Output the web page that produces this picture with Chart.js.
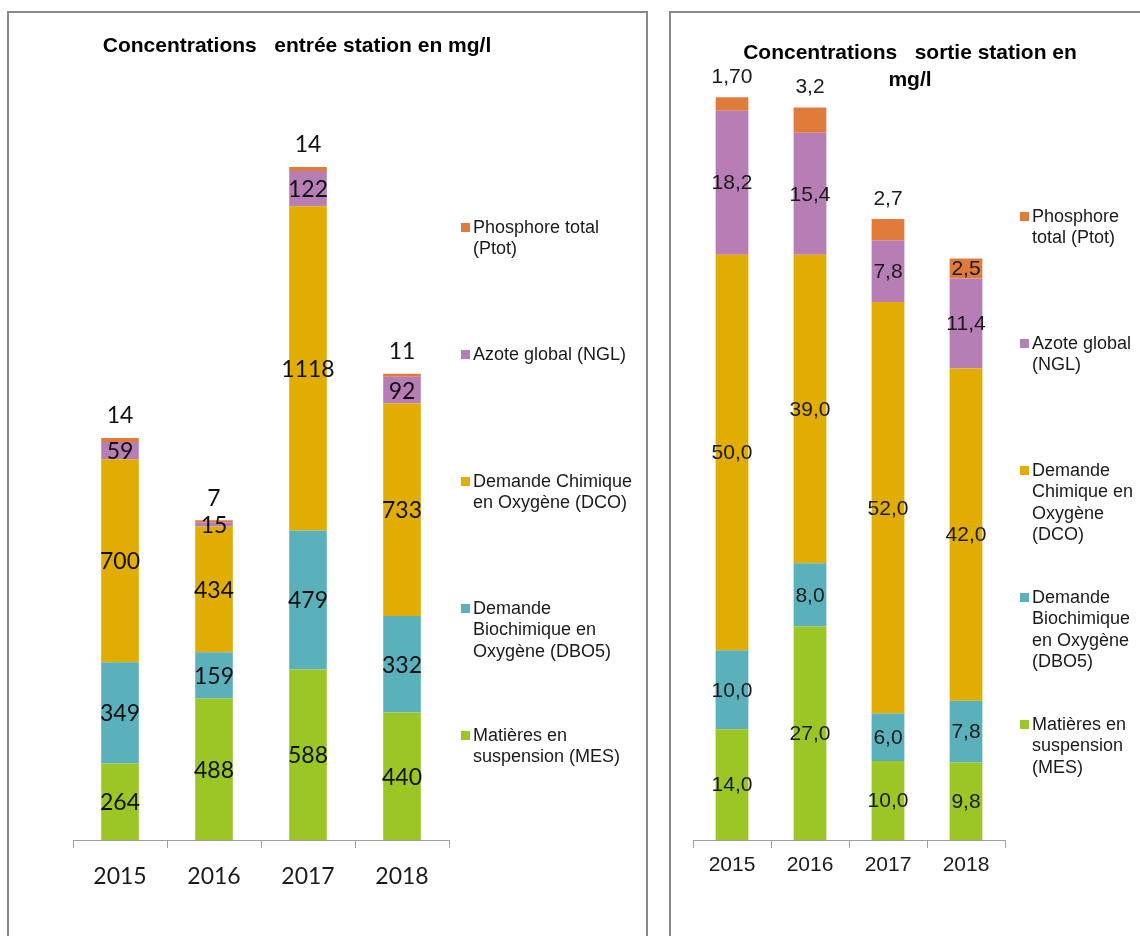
<!DOCTYPE html>
<html lang="fr">
<head>
<meta charset="utf-8">
<title>Concentrations entrée / sortie station</title>
<script src="https://cdn.jsdelivr.net/npm/chart.js@4.4.0/dist/chart.umd.min.js"></script>
<style>
  html, body { margin: 0; padding: 0; background: #fff; }
  body { width: 1140px; height: 936px; position: relative; overflow: hidden; }
  .panel { position: absolute; border: 2px solid #888; box-sizing: border-box; }
  #panelIn { left: 7px; top: 11px; width: 641px; height: 1000px; }
  #panelOut { left: 669px; top: 11px; width: 600px; height: 1000px; }
  canvas { position: absolute; top: 0; }
  #chartIn { left: 0; }
  #chartOut { left: 660px; }
</style>
</head>
<body>
<div class="panel" id="panelIn"></div>
<div class="panel" id="panelOut"></div>
<canvas id="chartIn" width="660" height="936"></canvas>
<canvas id="chartOut" width="480" height="936"></canvas>
<script>
const years = ['2015', '2016', '2017', '2018'];

// entrée station, mg/l
const mesIn  = [264, 488, 588, 440];
const dbo5In = [349, 159, 479, 332];
const dcoIn  = [700, 434, 1118, 733];
const nglIn  = [59, 15, 122, 92];
const ptotIn = [14, 7, 14, 11];

// sortie station, mg/l
const mesOut  = [14.0, 27.0, 10.0, 9.8];
const dbo5Out = [10.0, 8.0, 6.0, 7.8];
const dcoOut  = [50.0, 39.0, 52.0, 42.0];
const nglOut  = [18.2, 15.4, 7.8, 11.4];
const ptotOut = [1.70, 3.2, 2.7, 2.5];
const ptotOutDecimals = [2, 1, 1, 1];

const seriesNames = [
  'Matières en suspension (MES)',
  'Demande Biochimique en Oxygène (DBO5)',
  'Demande Chimique en Oxygène (DCO)',
  'Azote global (NGL)',
  'Phosphore total (Ptot)'
];
const seriesColors = ['#9BC625', '#5AB0BB', '#E1AD01', '#B77DB5', '#E07B3C'];

const ARIAL = '"Liberation Sans", Arial, sans-serif';

function wrapWords(ctx, text, maxWidth) {
  const words = text.split(' ');
  const lines = [];
  let cur = '';
  words.forEach(w => {
    const test = cur ? cur + ' ' + w : w;
    if (cur && ctx.measureText(test).width > maxWidth) {
      lines.push(cur);
      cur = w;
    } else {
      cur = test;
    }
  });
  if (cur) lines.push(cur);
  return lines;
}

// titles, legend and segment values, drawn after the bars
const decorPlugin = {
  id: 'decor',
  afterDraw(chart, args, o) {
    const ctx = chart.ctx;
    ctx.save();
    ctx.textAlign = 'center';
    ctx.textBaseline = 'middle';

    // title
    ctx.fillStyle = '#000';
    ctx.font = 'bold 21px ' + ARIAL;
    o.title.forEach((line, i) => ctx.fillText(line, o.titleX, o.titleY + i * 27));

    // values inside the segments, top segment above the bar
    ctx.font = o.labelFont;
    ctx.fillStyle = o.labelColor;
    const n = chart.data.datasets.length;
    chart.data.datasets.forEach((ds, di) => {
      const meta = chart.getDatasetMeta(di);
      meta.data.forEach((bar, i) => {
        const txt = o.format(ds.data[i], di, i);
        let y = (bar.y + bar.base) / 2;
        if (di === n - 1 && !(o.topInside && o.topInside[i])) y = bar.y - o.topOffset;
        ctx.fillText(txt, bar.x, y + 1);
      });
    });

    // legend, top series first
    ctx.textAlign = 'left';
    ctx.font = '18px ' + ARIAL;
    for (let k = 0; k < n; k++) {
      const ds = chart.data.datasets[n - 1 - k];
      const top = o.legendY + k * 127;
      ctx.fillStyle = ds.backgroundColor;
      ctx.fillRect(o.legendX, top - 4, 9, 9);
      ctx.fillStyle = '#1a1a1a';
      wrapWords(ctx, ds.label, o.legendWidth).forEach((line, j) => {
        ctx.fillText(line, o.legendX + 12, top + 1 + j * 21.5);
      });
    }
    ctx.restore();
  }
};

function makeDatasets(series) {
  return series.map((data, i) => ({
    label: seriesNames[i],
    data: data,
    backgroundColor: seriesColors[i],
    borderWidth: 0
  }));
}

function makeChart(id, series, opts) {
  return new Chart(document.getElementById(id), {
    type: 'bar',
    data: { labels: years, datasets: makeDatasets(series) },
    plugins: [decorPlugin],
    options: {
      responsive: false,
      animation: false,
      layout: { padding: opts.padding },
      barPercentage: opts.barPct,
      categoryPercentage: 1,
      plugins: {
        legend: { display: false },
        title: { display: false },
        tooltip: { enabled: false },
        decor: opts.decor
      },
      scales: {
        x: {
          stacked: true,
          grid: { drawOnChartArea: false, drawTicks: true, tickLength: 8, color: '#a0a0a0', offset: true },
          border: { display: true, color: '#a0a0a0', width: 1 },
          ticks: { color: '#1a1a1a', font: opts.tickFont, padding: opts.tickPad },
          afterFit: s => { s.height = 60; }
        },
        y: { stacked: true, display: false, min: 0, max: opts.yMax }
      }
    }
  });
}

makeChart('chartIn', [mesIn, dbo5In, dcoIn, nglIn, ptotIn], {
  padding: { left: 73, right: 211, top: 115, bottom: 36 },
  barPct: 0.40,
  yMax: 2500,
  tickFont: { family: 'Lato', size: 23 },
  tickPad: 15,
  decor: {
    title: ['Concentrations   entrée station en mg/l'],
    titleX: 297, titleY: 46,
    labelFont: '23px Lato',
    labelColor: '#111',
    format: v => String(v),
    topOffset: 23,
    legendX: 461, legendY: 227, legendWidth: 172
  }
});

makeChart('chartOut', [mesOut, dbo5Out, dcoOut, nglOut, ptotOut], {
  padding: { left: 33, right: 135, top: 49, bottom: 36 },
  barPct: 0.42,
  yMax: 100,
  tickFont: { family: 'Liberation Sans', size: 21 },
  tickPad: 5,
  decor: {
    title: ['Concentrations   sortie station en', 'mg/l'],
    titleX: 250, titleY: 53,
    labelFont: '21px ' + ARIAL,
    labelColor: '#1a1a1a',
    format: (v, di, i) => v.toFixed(di === 4 ? ptotOutDecimals[i] : 1).replace('.', ','),
    topOffset: 21,
    topInside: [false, false, false, true],
    legendX: 360, legendY: 216, legendWidth: 110
  }
});
</script>
</body>
</html>
